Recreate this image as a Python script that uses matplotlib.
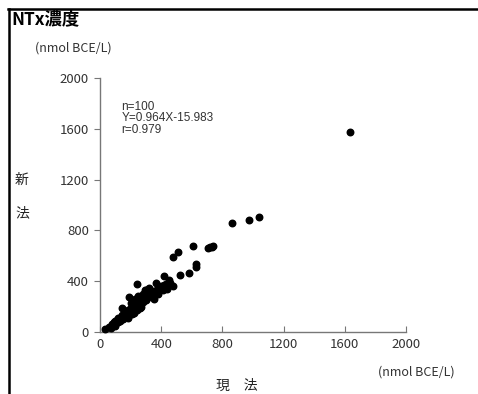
import matplotlib.pyplot as plt
from matplotlib.lines import Line2D

plt.rcParams['font.family'] = ['Noto Sans CJK JP', 'DejaVu Sans']

# current method (x) vs new method (y), nmol BCE/L
x_vals = [1632, 1036, 975, 860, 740, 730, 721, 707, 611, 511, 479, 630, 630, 581, 526,
          418, 448, 457, 476, 439, 369, 245, 296, 189, 141, 33,
          60, 75, 80, 90, 95, 100, 105, 110, 115, 120, 125, 130, 135, 140, 145, 150,
          155, 160, 165, 170, 175, 180, 185, 190, 195, 200, 205, 210, 215, 220, 225,
          230, 235, 240, 245, 250, 255, 260, 265, 270, 275, 280, 285, 290, 295, 300,
          305, 310, 320, 325, 330, 340, 350, 360, 370, 380, 390, 400, 410, 420, 430,
          200, 230, 250, 180, 210, 150, 260, 280, 240, 300, 320, 350, 380]
y_vals = [1577, 909, 883, 857, 678, 673, 670, 665, 678, 628, 589, 536, 510, 468, 447,
          444, 410, 389, 363, 337, 389, 376, 331, 278, 187, 21,
          40, 30, 60, 75, 50, 85, 70, 95, 80, 110, 100, 90, 120, 105, 130, 115,
          140, 125, 150, 135, 160, 145, 170, 130, 180, 160, 190, 175, 200, 150, 210,
          190, 220, 200, 230, 215, 240, 225, 250, 200, 260, 240, 270, 255, 280, 250,
          290, 270, 300, 280, 310, 290, 320, 300, 330, 350, 340, 360, 330, 370, 380,
          230, 260, 280, 110, 140, 100, 190, 300, 170, 330, 350, 260, 300]

ticks = [0, 400, 800, 1200, 1600, 2000]
stats_text = "n=100\nY=0.964X-15.983\nr=0.979"

fig = plt.figure(figsize=(4.78, 3.94), dpi=100)
ax = fig.add_axes([0.2092, 0.1574, 0.6402, 0.6446])

ax.scatter(x_vals, y_vals, s=22, color='black', zorder=3, clip_on=False)

ax.set_xlim(0, 2000)
ax.set_ylim(0, 2000)
ax.set_xticks(ticks)
ax.set_yticks(ticks)
ax.tick_params(axis='x', direction='in', length=4, pad=4, labelsize=9.5, colors='#777777', labelcolor='#333333')
ax.tick_params(axis='y', direction='out', length=4, pad=4, labelsize=9.5, colors='#777777', labelcolor='#333333')
for side in ['top', 'right']:
    ax.spines[side].set_visible(False)
for side in ['left', 'bottom']:
    ax.spines[side].set_color('#777777')
    ax.spines[side].set_linewidth(1.0)

ax.text(0.07, 0.91, stats_text, transform=ax.transAxes, fontsize=8.5, color='#333333',
        va='top', ha='left', linespacing=0.95, family=['Liberation Sans', 'DejaVu Sans'])

# frame lines at top and left
fig.add_artist(Line2D([8 / 478, 1], [1 - 9 / 394, 1 - 9 / 394], color='black', lw=1.8))
fig.add_artist(Line2D([9 / 478, 9 / 478], [0, 1 - 9 / 394], color='black', lw=1.8))

fig.text(11 / 478, 1 - 19 / 394, "NTx濃度", fontsize=12.5, fontweight='bold', va='center', ha='left')
fig.text(35 / 478, 1 - 48 / 394, "(nmol BCE/L)", fontsize=9, va='center', ha='left', color='#333333')
fig.text(22 / 478, 1 - 180 / 394, "新", fontsize=10, va='center', ha='center', color='#222222')
fig.text(22 / 478, 1 - 213 / 394, "法", fontsize=10, va='center', ha='center', color='#222222')
fig.text(237 / 478, 1 - 386 / 394, "現　法", fontsize=10, va='center', ha='center', color='#222222')
fig.text(378 / 478, 1 - 372 / 394, "(nmol BCE/L)", fontsize=9, va='center', ha='left', color='#333333')

fig.savefig('out.png', dpi=100)
